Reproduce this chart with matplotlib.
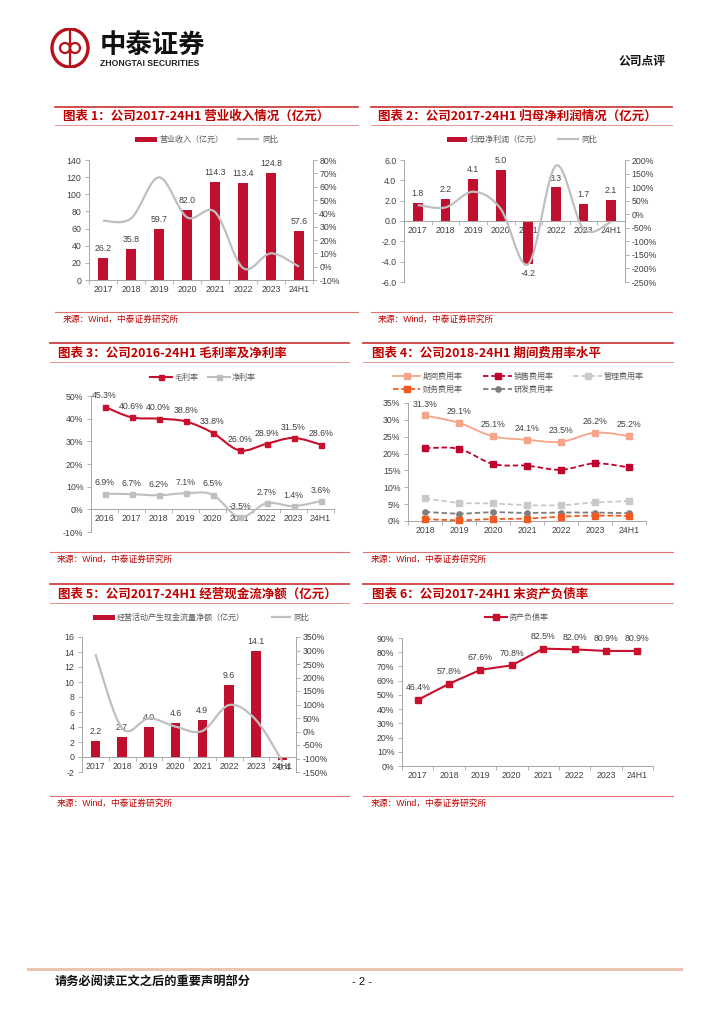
import matplotlib
matplotlib.use('Agg')
import matplotlib.pyplot as plt
import numpy as np
from matplotlib.path import Path
from matplotlib.patches import PathPatch, Rectangle, Circle, Ellipse
from matplotlib.lines import Line2D
from matplotlib.ticker import FuncFormatter

# ---------------- data ----------------
cats_a = ['2017', '2018', '2019', '2020', '2021', '2022', '2023', '24H1']
revenue = [26.2, 35.8, 59.7, 82.0, 114.3, 113.4, 124.8, 57.6]
revenue_yoy = [34.5, 36.2, 67.0, 37.0, 41.0, -1.0, 10.0, 0.0]

net_profit = [1.8, 2.2, 4.1, 5.0, -4.2, 3.3, 1.7, 2.1]
net_profit_yoy = [34, 25, 83, 20, -184, 179, -55, -28]

cats_b = ['2016', '2017', '2018', '2019', '2020', '2021', '2022', '2023', '24H1']
gross_margin = [45.3, 40.6, 40.0, 38.8, 33.8, 26.0, 28.9, 31.5, 28.6]
net_margin = [6.9, 6.7, 6.2, 7.1, 6.5, -3.5, 2.7, 1.4, 3.6]

cats_c = ['2018', '2019', '2020', '2021', '2022', '2023', '24H1']
period_exp = [31.3, 29.1, 25.1, 24.1, 23.5, 26.2, 25.2]
sales_exp = [21.6, 21.4, 16.9, 16.4, 15.2, 17.1, 15.9]
admin_exp = [6.7, 5.4, 5.2, 4.7, 4.7, 5.5, 5.9]
fin_exp = [0.6, 0.2, 0.6, 0.7, 1.3, 1.6, 1.5]
rd_exp = [2.7, 2.2, 2.6, 2.4, 2.5, 2.5, 2.3]

op_cf = [2.2, 2.7, 4.0, 4.6, 4.9, 9.6, 14.1, -0.4]
op_cf_yoy = [287, 12, 49, 18, 2, 98, 43, -112]

debt_ratio = [46.4, 57.8, 67.6, 70.8, 82.5, 82.0, 80.9, 80.9]

# ---------------- style ----------------
W, H = 724, 1024
plt.rcParams['font.family'] = ['Liberation Sans', 'Noto Sans CJK SC', 'DejaVu Sans']
CJK = ['Noto Sans CJK SC', 'DejaVu Sans']
FS = 6.3
TC = '#404040'
AC = '#A6A6A6'
BAR = '#C0102F'
GRAY = '#BFBFBF'
RED = '#C8102E'
TITLE_RED = '#C00000'

fig = plt.figure(figsize=(W / 100, H / 100), dpi=100)


def fx(x):
    return x / W


def fy(y):
    return 1 - y / H


def add_ax(x0, y0, x1, y1):
    return fig.add_axes([x0 / W, 1 - y1 / H, (x1 - x0) / W, (y1 - y0) / H])


def smooth_path(xs, ys):
    n = len(xs)
    verts = [(xs[0], ys[0])]
    codes = [Path.MOVETO]
    for i in range(n - 1):
        p0 = (xs[i - 1], ys[i - 1]) if i > 0 else (xs[i], ys[i])
        p1 = (xs[i], ys[i])
        p2 = (xs[i + 1], ys[i + 1])
        p3 = (xs[i + 2], ys[i + 2]) if i + 2 < n else p2
        c1 = (p1[0] + (p2[0] - p0[0]) / 6, p1[1] + (p2[1] - p0[1]) / 6)
        c2 = (p2[0] - (p3[0] - p1[0]) / 6, p2[1] - (p3[1] - p1[1]) / 6)
        verts += [c1, c2, p2]
        codes += [Path.CURVE4] * 3
    return Path(verts, codes)


def smooth_line(ax, xs, ys, color, lw, ls='-', zorder=3):
    p = PathPatch(smooth_path(list(xs), list(ys)), fill=False, edgecolor=color,
                  linewidth=lw, linestyle=ls, zorder=zorder, capstyle='butt', joinstyle='round')
    ax.add_patch(p)


def cat_axis(ax, labels, zero=None):
    n = len(labels)
    ax.set_xlim(-0.5, n - 0.5)
    ax.set_xticks(np.arange(n))
    ax.set_xticklabels(labels)
    ax.set_xticks(np.arange(-0.5, n, 1.0), minor=True)
    ax.tick_params(axis='x', which='major', length=0, pad=3.5, labelsize=FS, labelcolor=TC)
    ax.tick_params(axis='x', which='minor', length=3, width=0.6, color=AC, direction='out')
    if zero is not None:
        ax.spines['bottom'].set_position(('data', zero))
    for s in ['top', 'right']:
        ax.spines[s].set_visible(False)
    for s in ['left', 'bottom']:
        ax.spines[s].set_color(AC)
        ax.spines[s].set_linewidth(0.7)
    ax.tick_params(axis='y', which='major', length=3, width=0.6, color=AC,
                   labelsize=FS, labelcolor=TC, pad=2.5)
    ax.patch.set_alpha(0)


def right_axis(ax):
    a2 = ax.twinx()
    for s in ['top', 'left', 'bottom']:
        a2.spines[s].set_visible(False)
    a2.spines['right'].set_color(AC)
    a2.spines['right'].set_linewidth(0.7)
    a2.tick_params(axis='y', length=3, width=0.6, color=AC, labelsize=FS, labelcolor=TC, pad=1.5)
    a2.patch.set_alpha(0)
    return a2


pct0 = FuncFormatter(lambda v, p: '%d%%' % round(v))
dec1 = FuncFormatter(lambda v, p: '%.1f' % v)
int0 = FuncFormatter(lambda v, p: '%d' % round(v))


def label(ax, x, y, s, dy, va='bottom'):
    ax.annotate(s, (x, y), xytext=(0, dy), textcoords='offset points', ha='center', va=va,
                fontsize=FS, color=TC, zorder=6, annotation_clip=False)


# legend helpers (figure pixel coordinates)
def leg_rect(x0, x1, y, color, h=5):
    fig.add_artist(Rectangle((fx(x0), fy(y) - h / 2 / H), (x1 - x0) / W, h / H,
                             transform=fig.transFigure, facecolor=color, edgecolor='none'))


def leg_line(x0, x1, y, color, lw=1.6, ls='-', marker=None, ms=4):
    fig.add_artist(Line2D([fx(x0), fx(x1)], [fy(y), fy(y)], transform=fig.transFigure,
                          color=color, lw=lw, ls=ls))
    if marker:
        fig.add_artist(Line2D([fx((x0 + x1) / 2)], [fy(y)], transform=fig.transFigure,
                              color=color, marker=marker, ms=ms, ls='none'))


def leg_text(x, y, s):
    fig.text(fx(x), fy(y), s, ha='left', va='center', fontsize=5.8, color='#595959', family=CJK)


# ---------------- page header / frames ----------------
lax = fig.add_axes([48 / W, 1 - 68 / H, 44 / W, 40 / H])
lax.set_xlim(0, 44)
lax.set_ylim(0, 40)
lax.axis('off')
LOGO = '#B5121B'
lax.add_patch(Ellipse((22, 20), 36, 38, fill=False, edgecolor=LOGO, lw=2.4))
lax.plot([22, 22], [3, 37], color=LOGO, lw=1.6)
lax.add_patch(Ellipse((17, 20), 10, 10, fill=False, edgecolor=LOGO, lw=1.6))
lax.add_patch(Ellipse((27, 20), 10, 10, fill=False, edgecolor=LOGO, lw=1.6))

fig.text(fx(100), fy(45), '中泰证券', fontsize=19, weight='bold', va='center', ha='left',
         family=CJK, color='#111111')
fig.text(fx(100), fy(63), 'ZHONGTAI SECURITIES', fontsize=6.2, weight='bold', va='center',
         ha='left', color='#222222')
fig.text(fx(619), fy(61), '公司点评', fontsize=8.5, weight='bold', va='center', ha='left',
         family=CJK, color='#111111')


def hline(x0, x1, y, color, lw):
    fig.add_artist(Line2D([fx(x0), fx(x1)], [fy(y), fy(y)], transform=fig.transFigure,
                          color=color, lw=lw))


def frame(x0, x1, ytop, ytitle, ybot, ysrc, title, tx, sx):
    hline(x0, x1, ytop, '#D04040', 1.3)
    hline(x0, x1, ybot, '#E08080', 0.6)
    fig.text(fx(tx), fy(ytitle), title, fontsize=9, weight='bold', color=TITLE_RED,
             family=CJK, va='center', ha='left')
    hline(x0, x1, ysrc, '#E07070', 0.8)
    fig.text(fx(sx), fy(ysrc + 7), '来源：Wind，中泰证券研究所', fontsize=6.3, color=TITLE_RED,
             family=['Liberation Sans', 'Noto Sans CJK SC'], va='center', ha='left')


frame(55, 358, 107, 116, 125, 312, '图表 1：公司2017-24H1 营业收入情况（亿元）', 63, 63)
frame(371, 672, 107, 116, 125, 312, '图表 2：公司2017-24H1 归母净利润情况（亿元）', 378, 378)
frame(50, 349, 343, 353, 362, 552, '图表 3：公司2016-24H1 毛利率及净利率', 58, 57)
frame(363, 673, 343, 353, 362, 552, '图表 4：公司2018-24H1 期间费用率水平', 372, 371)
frame(50, 349, 584, 594, 603, 796, '图表 5：公司2017-24H1 经营现金流净额（亿元）', 58, 57)
frame(363, 673, 584, 594, 603, 796, '图表 6：公司2017-24H1 末资产负债率', 372, 371)

# footer
hline(28, 681, 969, '#E9C5B5', 2.2)
fig.text(fx(55), fy(982), '请务必阅读正文之后的重要声明部分', fontsize=8.8, weight='bold',
         family=CJK, va='center', ha='left', color='#111111')
fig.text(fx(362), fy(982), '- 2 -', fontsize=8, va='center', ha='center', color='#111111')

# ---------------- chart 1 ----------------
ax = add_ax(89, 160, 313, 280)
x = np.arange(len(cats_a))
ax.bar(x, revenue, width=0.35, color=BAR, zorder=2)
ax.set_ylim(0, 140)
ax.set_yticks(np.arange(0, 141, 20))
ax.yaxis.set_major_formatter(int0)
cat_axis(ax, cats_a)
for i, v in enumerate(revenue):
    label(ax, i, v, '%.1f' % v, 3.5)
a2 = right_axis(ax)
a2.set_ylim(-10, 80)
a2.set_yticks(np.arange(-10, 81, 10))
a2.yaxis.set_major_formatter(pct0)
smooth_line(a2, x, revenue_yoy, GRAY, 1.6)
leg_rect(135, 157, 139, BAR)
leg_text(159, 139, '营业收入（亿元）')
leg_line(238, 258, 139, GRAY, lw=1.6)
leg_text(262, 139, '同比')

# ---------------- chart 2 ----------------
ax = add_ax(404, 160, 625, 282)
ax.bar(x, net_profit, width=0.35, color=BAR, zorder=2)
ax.set_ylim(-6, 6)
ax.set_yticks(np.arange(-6, 6.1, 2))
ax.yaxis.set_major_formatter(dec1)
cat_axis(ax, cats_a, zero=0)
for i, v in enumerate(net_profit):
    if v >= 0:
        label(ax, i, v, '%.1f' % v, 3.5)
    else:
        label(ax, i, v, '%.1f' % v, -3.5, va='top')
a2 = right_axis(ax)
a2.set_ylim(-250, 200)
a2.set_yticks(np.arange(-250, 201, 50))
a2.yaxis.set_major_formatter(pct0)
smooth_line(a2, x, net_profit_yoy, GRAY, 1.6)
leg_rect(447, 467, 139, BAR)
leg_text(469, 139, '归母净利润（亿元）')
leg_line(558, 578, 139, GRAY, lw=1.6)
leg_text(581, 139, '同比')

# ---------------- chart 3 ----------------
ax = add_ax(91, 396, 334, 532)
xb = np.arange(len(cats_b))
ax.set_ylim(-10, 50)
ax.set_yticks(np.arange(-10, 51, 10))
ax.yaxis.set_major_formatter(pct0)
cat_axis(ax, cats_b, zero=0)
smooth_line(ax, xb, gross_margin, RED, 1.5)
ax.plot(xb, gross_margin, ls='none', marker='s', ms=3.6, color=RED, zorder=4)
smooth_line(ax, xb, net_margin, GRAY, 1.5)
ax.plot(xb, net_margin, ls='none', marker='s', ms=3.6, color=GRAY, zorder=4)
for i, v in enumerate(gross_margin):
    label(ax, i, v, '%.1f%%' % v, 4.5)
for i, v in enumerate(net_margin):
    label(ax, i, v, '%.1f%%' % v, 4.5)
leg_line(150, 172, 377, RED, lw=1.5, marker='s', ms=3.6)
leg_text(174, 377, '毛利率')
leg_line(208, 230, 377, GRAY, lw=1.5, marker='s', ms=3.6)
leg_text(232, 377, '净利率')

# ---------------- chart 4 ----------------
ax = add_ax(408, 403, 646, 521)
xc = np.arange(len(cats_c))
ax.set_ylim(0, 35)
ax.set_yticks(np.arange(0, 36, 5))
ax.yaxis.set_major_formatter(pct0)
cat_axis(ax, cats_c)
ax.set_clip_on(False)
c_period, c_sales, c_admin, c_fin, c_rd = '#F6A48A', '#C0002D', '#C9C9C9', '#F05A22', '#7F7F7F'
DASH = (0, (3, 1.6))
series4 = [
    (admin_exp, c_admin, DASH, 's'),
    (rd_exp, c_rd, DASH, 'o'),
    (fin_exp, c_fin, DASH, 's'),
    (sales_exp, c_sales, DASH, 's'),
    (period_exp, c_period, '-', 's'),
]
for vals, col, ls, mk in series4:
    smooth_line(ax, xc, vals, col, 1.3, ls=ls)
    ax.plot(xc, vals, ls='none', marker=mk, ms=3.8, color=col, zorder=4, clip_on=False)
for i, v in enumerate(period_exp):
    label(ax, i, v, '%.1f%%' % v, 5)
leg_line(393, 420, 376, c_period, lw=1.3, marker='s', ms=3.8)
leg_text(423, 376, '期间费用率')
leg_line(483, 512, 376, c_sales, lw=1.3, ls=DASH, marker='s', ms=3.8)
leg_text(514, 376, '销售费用率')
leg_line(573, 602, 376, c_admin, lw=1.3, ls=DASH, marker='s', ms=3.8)
leg_text(604, 376, '管理费用率')
leg_line(393, 420, 389, c_fin, lw=1.3, ls=DASH, marker='s', ms=3.8)
leg_text(423, 389, '财务费用率')
leg_line(483, 512, 389, c_rd, lw=1.3, ls=DASH, marker='o', ms=3.8)
leg_text(514, 389, '研发费用率')

# ---------------- chart 5 ----------------
ax = add_ax(82, 637, 296, 772)
ax.bar(x, op_cf, width=0.35, color=BAR, zorder=2)
ax.set_ylim(-2, 16)
ax.set_yticks(np.arange(-2, 16.1, 2))
ax.yaxis.set_major_formatter(int0)
cat_axis(ax, cats_a, zero=0)
for i, v in enumerate(op_cf):
    if v >= 0:
        label(ax, i, v, '%.1f' % v, 3.5)
    else:
        label(ax, i, v, '%.1f' % v, -2, va='top')
a2 = right_axis(ax)
a2.set_ylim(-150, 350)
a2.set_yticks(np.arange(-150, 351, 50))
a2.yaxis.set_major_formatter(pct0)
smooth_line(a2, x, op_cf_yoy, GRAY, 1.6)
leg_rect(93, 115, 617, BAR)
leg_text(117, 617, '经营活动产生现金流量净额（亿元）')
leg_line(272, 290, 617, GRAY, lw=1.6)
leg_text(293, 617, '同比')

# ---------------- chart 6 ----------------
ax = add_ax(402, 638, 653, 766)
ax.set_ylim(0, 90)
ax.set_yticks(np.arange(0, 91, 10))
ax.yaxis.set_major_formatter(pct0)
cat_axis(ax, cats_a)
ax.plot(x, debt_ratio, color=RED, lw=1.5, marker='s', ms=3.8, zorder=4)
for i, v in enumerate(debt_ratio):
    label(ax, i, v, '%.1f%%' % v, 5.5)
leg_line(485, 507, 617, RED, lw=1.5, marker='s', ms=3.8)
leg_text(509, 617, '资产负债率')

fig.savefig('out.png', dpi=100)
